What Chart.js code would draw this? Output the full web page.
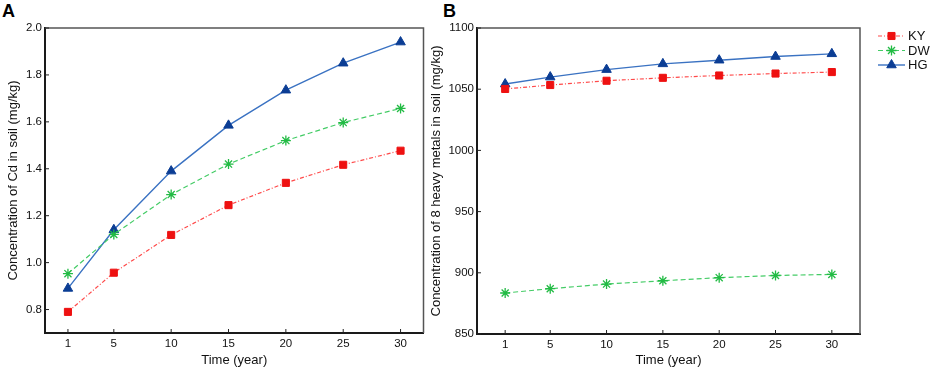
<!DOCTYPE html>
<html>
<head>
<meta charset="utf-8">
<script src="https://cdn.jsdelivr.net/npm/chart.js@4.4.1/dist/chart.umd.min.js"></script>
<style>
  body { margin: 0; background: #fff; width: 948px; height: 370px; position: relative; overflow: hidden; }
  canvas { position: absolute; top: 0; }
  #chartA { left: 0; }
  #chartB { left: 428px; }
  .panel { position: absolute; top: 2px; font: bold 18px/18px "Liberation Sans", Arial, sans-serif; color: #000; }
</style>
</head>
<body>
<div class="panel" style="left:2px">A</div>
<div class="panel" style="left:443px">B</div>
<canvas id="chartA" width="430" height="370"></canvas>
<canvas id="chartB" width="520" height="370"></canvas>
<script>
const years = [1, 5, 10, 15, 20, 25, 30];
const xTicks = [1, 5, 10, 15, 20, 25, 30];

// panel A - Cd
const cdKY = [0.79, 0.957, 1.118, 1.245, 1.34, 1.417, 1.477];
const cdDW = [0.953, 1.12, 1.29, 1.42, 1.52, 1.597, 1.657];
const cdHG = [0.89, 1.14, 1.39, 1.585, 1.735, 1.85, 1.94];
const cdTicks = [0.8, 1.0, 1.2, 1.4, 1.6, 1.8, 2.0];

// panel B - 8 heavy metals
const hmKY = [1050.2, 1053.4, 1056.9, 1059.3, 1061.2, 1062.8, 1064];
const hmDW = [883.5, 887, 890.8, 893.5, 896, 897.8, 898.7];
const hmHG = [1054.2, 1059.9, 1066, 1070.7, 1073.7, 1076.7, 1078.9];
const hmTicks = [850, 900, 950, 1000, 1050, 1100];

const seriesNames = ['KY', 'DW', 'HG'];

const FONT = '"Liberation Sans", Arial, sans-serif';
Chart.defaults.font.family = FONT;
Chart.defaults.color = '#111';

function pts(vals) {
    return years.map((x, i) => ({ x: x, y: vals[i] }));
}

function makeDatasets(ky, dw, hg) {
    return [{
        label: seriesNames[0],
        data: pts(ky),
        borderColor: '#ff4a4a',
        borderWidth: 1.2,
        borderDash: [4, 2, 1, 2],
        pointStyle: 'rect',
        pointRadius: 5,
        pointBackgroundColor: '#ee1111',
        pointBorderColor: '#ee1111',
        pointBorderWidth: 1
    }, {
        label: seriesNames[1],
        data: pts(dw),
        borderColor: '#44cc66',
        borderWidth: 1.2,
        borderDash: [5, 3],
        pointStyle: 'star',
        pointRadius: 5,
        pointBackgroundColor: '#22bb44',
        pointBorderColor: '#22bb44',
        pointBorderWidth: 1.3
    }, {
        label: seriesNames[2],
        data: pts(hg),
        borderColor: '#3a72c2',
        borderWidth: 1.4,
        pointStyle: 'triangle',
        pointRadius: 5.5,
        pointBackgroundColor: '#0b3d94',
        pointBorderColor: '#0b3d94',
        pointBorderWidth: 1
    }];
}

// inward tick marks + top/right frame
const frame = {
    id: 'frame',
    afterDraw(chart) {
        const { ctx, chartArea: a, scales } = chart;
        ctx.save();
        ctx.strokeStyle = '#555';
        ctx.lineWidth = 1.5;
        ctx.beginPath();
        ctx.moveTo(a.left, a.top);
        ctx.lineTo(a.right, a.top);
        ctx.lineTo(a.right, a.bottom);
        ctx.stroke();
        ctx.strokeStyle = '#222';
        ctx.lineWidth = 1;
        ctx.beginPath();
        scales.x.ticks.forEach(t => {
            const px = scales.x.getPixelForValue(t.value);
            ctx.moveTo(px, a.bottom);
            ctx.lineTo(px, a.bottom - 4);
        });
        scales.y.ticks.forEach(t => {
            const py = scales.y.getPixelForValue(t.value);
            ctx.moveTo(a.left, py);
            ctx.lineTo(a.left + 4, py);
        });
        ctx.stroke();
        ctx.restore();
    }
};

// legend: line sample with marker
const lineLegend = {
    id: 'lineLegend',
    afterDraw(chart) {
        const ctx = chart.ctx;
        const x0 = 450, x1 = 477, y0 = 36, dy = 14.5;
        chart.data.datasets.forEach((ds, i) => {
            const y = y0 + i * dy;
            ctx.save();
            ctx.strokeStyle = ds.borderColor;
            ctx.lineWidth = ds.borderWidth;
            ctx.setLineDash(ds.borderDash || []);
            ctx.beginPath();
            ctx.moveTo(x0, y);
            ctx.lineTo(x1, y);
            ctx.stroke();
            ctx.setLineDash([]);
            ctx.fillStyle = ds.pointBackgroundColor;
            ctx.strokeStyle = ds.pointBorderColor;
            ctx.lineWidth = ds.pointBorderWidth;
            Chart.helpers.drawPoint(ctx, {
                pointStyle: ds.pointStyle, radius: ds.pointRadius,
                borderWidth: ds.pointBorderWidth, rotation: 0
            }, (x0 + x1) / 2, y);
            ctx.fillStyle = '#111';
            ctx.font = '13px ' + FONT;
            ctx.textBaseline = 'middle';
            ctx.fillText(ds.label, x1 + 3, y + 0.5);
            ctx.restore();
        });
    }
};

function makeOptions(o) {
    return {
        responsive: false,
        animation: false,
        devicePixelRatio: 1,
        layout: { padding: { top: 28, right: o.padRight, left: 0, bottom: 0 } },
        plugins: { legend: { display: false }, tooltip: { enabled: false } },
        scales: {
            x: {
                type: 'linear',
                min: o.xMin, max: o.xMax,
                afterBuildTicks: s => { s.ticks = xTicks.map(v => ({ value: v })); },
                afterFit: s => { s.height = o.xHeight; },
                grid: { display: false, drawTicks: false },
                border: { display: true, color: '#1a1a1a', width: 2 },
                ticks: { padding: 4, font: { size: 11.5 }, color: '#111', maxRotation: 0 },
                title: { display: true, text: 'Time (year)', font: { size: 13 }, color: '#111', padding: 2 }
            },
            y: {
                min: o.yMin, max: o.yMax,
                afterBuildTicks: s => { s.ticks = o.yTicks.map(v => ({ value: v })); },
                afterFit: s => { s.width = o.yWidth; },
                grid: { display: false, drawTicks: false },
                border: { display: true, color: '#1a1a1a', width: 2 },
                ticks: { padding: 3, font: { size: 11.5 }, color: '#111', callback: o.fmt },
                title: { display: true, text: o.yTitle, font: { size: 13 }, color: '#111', padding: o.yTitlePad }
            }
        }
    };
}

new Chart(document.getElementById('chartA'), {
    type: 'line',
    data: { datasets: makeDatasets(cdKY, cdDW, cdHG) },
    options: makeOptions({
        padRight: 4, xMin: -1, xMax: 32, xHeight: 37,
        yMin: 0.7, yMax: 2.0, yTicks: cdTicks, yWidth: 45,
        fmt: v => Number(v).toFixed(1),
        yTitle: 'Concentration of Cd in soil (mg/kg)', yTitlePad: 6
    }),
    plugins: [frame]
});

new Chart(document.getElementById('chartB'), {
    type: 'line',
    data: { datasets: makeDatasets(hmKY, hmDW, hmHG) },
    options: makeOptions({
        padRight: 88, xMin: -1.5, xMax: 32.5, xHeight: 36,
        yMin: 850, yMax: 1100, yTicks: hmTicks, yWidth: 49,
        fmt: v => String(v),
        yTitle: 'Concentration of 8 heavy metals in soil (mg/kg)', yTitlePad: 1
    }),
    plugins: [frame, lineLegend]
});
</script>
</body>
</html>
